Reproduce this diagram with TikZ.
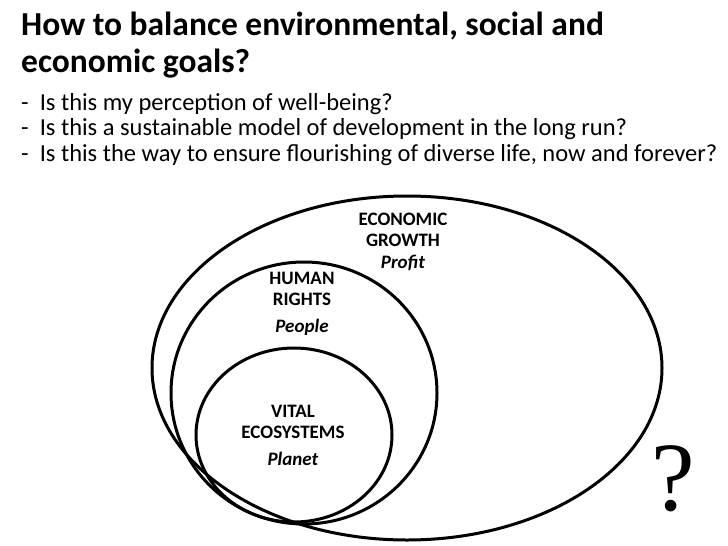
\documentclass[tikz,border=0pt]{standalone}
\usepackage{fontspec}
\setmainfont{Carlito}
\newfontfamily\qmarkfont{Liberation Serif}
\usetikzlibrary{positioning, shapes.geometric}

\begin{document}
\begin{tikzpicture}[x=1pt, y=1pt,
    ring/.style={draw, ellipse, line width=3pt, inner sep=0pt},
    caplbl/.style={align=center, font=\bfseries\fontsize{19}{20.5}\selectfont}]
  \useasboundingbox (0,0) rectangle (728,-546);

  % heading and questions
  \node[anchor=base west, align=left, inner sep=0pt,
        font=\bfseries\fontsize{33.5}{37}\selectfont] (title) at (21,-72)
        {How to balance environmental, social and\\economic goals?};
  \node[anchor=base west, align=left, inner sep=0pt,
        font=\fontsize{24.5}{25.5}\selectfont] (quest) at (21,-161)
        {-\ \ Is this my perception of well-being?\\
         -\ \ Is this a sustainable model of development in the long run?\\
         -\ \ Is this the way to ensure flourishing of diverse life, now and forever?};

  % nested circles
  \node[ring, minimum width=510pt, minimum height=344pt] (econ) at (407,-368) {};
  \node[ring, minimum width=266pt, minimum height=262pt] (human) at (304,-393) {};
  \node[ring, minimum width=196pt, minimum height=174pt] (vital) at (294,-435) {};

  \node[caplbl, anchor=base] (econlbl) at (403,-268)
        {ECONOMIC\\[0.5pt]GROWTH\\[1.5pt]\textit{Profit}};
  \node[caplbl, anchor=base] (humanlbl) at (302,-332)
        {HUMAN\\RIGHTS\\[6.5pt]\textit{People}};
  \node[caplbl, anchor=base] (vitallbl) at (293,-465)
        {VITAL\\ECOSYSTEMS\\[6.5pt]\textit{Planet}};

  \node[anchor=base, inner sep=0pt, font=\qmarkfont\fontsize{98}{98}\selectfont]
        (qmark) at (673,-510) {?};
\end{tikzpicture}
\end{document}
